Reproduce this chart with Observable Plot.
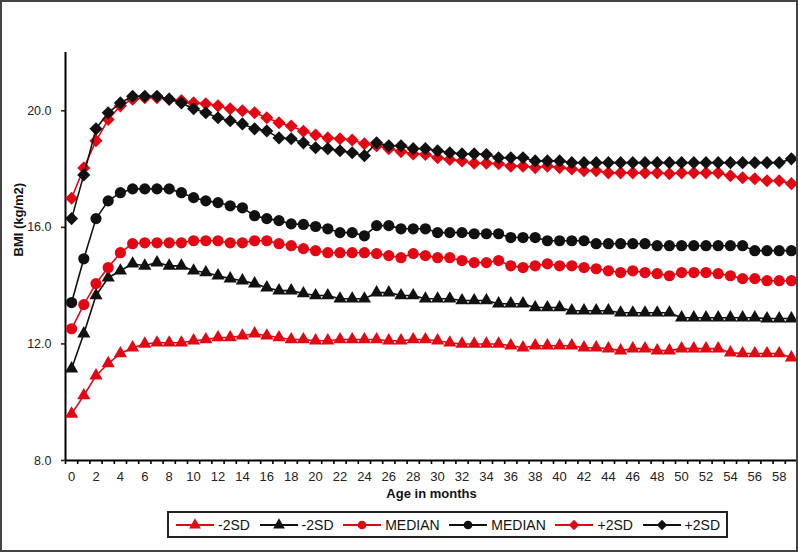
<!DOCTYPE html>
<html>
<head>
<meta charset="utf-8">
<script src="https://cdn.jsdelivr.net/npm/d3@7"></script>
<script src="https://cdn.jsdelivr.net/npm/@observablehq/plot@0.6"></script>
<style>
html, body { margin: 0; padding: 0; background: #fff; }
#page { position: relative; width: 798px; height: 552px; overflow: hidden; font-family: "Liberation Sans", Arial, sans-serif; }
#frame { position: absolute; left: 0; top: 0; width: 798px; height: 552px; box-sizing: border-box; border: 2px solid #444; pointer-events: none; }
#chart { position: absolute; left: 0; top: 0; }
#legend { position: absolute; left: 167px; top: 511px; width: 561px; height: 27px; box-sizing: border-box; border: 2px solid #222;
  display: flex; align-items: center; justify-content: space-between; padding: 0 6px; font-size: 14px; color: #111; }
#legend .item { display: flex; align-items: center; gap: 3px; white-space: nowrap; }
#legend svg { display: block; }
</style>
</head>
<body>
<div id="page">
  <div id="chart"></div>
  <div id="legend"></div>
  <div id="frame"></div>
</div>
<script>
const RED = "#e30613";
const BLACK = "#111111";

const months = d3.range(0, 60);
const xTickLabels = d3.range(0, 59, 2);
const yTicks = [8, 12, 16, 20];

const redMinus2 = [9.6,10.23,10.91,11.33,11.67,11.87,12.0,12.04,12.04,12.04,12.11,12.15,12.22,12.22,12.28,12.35,12.28,12.22,12.15,12.15,
  12.11,12.11,12.15,12.15,12.15,12.15,12.11,12.11,12.15,12.15,12.11,12.04,12.0,12.0,12.0,12.0,11.94,11.87,11.94,11.94,
  11.94,11.94,11.87,11.87,11.84,11.77,11.84,11.84,11.77,11.77,11.84,11.84,11.84,11.84,11.7,11.67,11.67,11.67,11.67,11.53];
const blackMinus2 = [11.15,12.35,13.66,14.27,14.51,14.75,14.68,14.79,14.68,14.68,14.51,14.45,14.34,14.24,14.17,14.07,13.93,13.83,13.83,13.73,
  13.66,13.66,13.55,13.55,13.55,13.76,13.76,13.66,13.66,13.55,13.55,13.55,13.49,13.49,13.49,13.38,13.38,13.38,13.25,13.25,
  13.25,13.14,13.14,13.14,13.14,13.07,13.07,13.07,13.07,13.07,12.9,12.9,12.9,12.9,12.9,12.9,12.9,12.87,12.87,12.87];
const redMedian = [12.52,13.35,14.07,14.62,15.13,15.44,15.47,15.47,15.47,15.47,15.54,15.54,15.54,15.47,15.47,15.54,15.54,15.44,15.37,15.27,
  15.2,15.13,15.13,15.13,15.13,15.1,15.03,14.96,15.1,15.03,14.96,14.96,14.86,14.79,14.79,14.86,14.68,14.62,14.68,14.75,
  14.68,14.68,14.62,14.58,14.51,14.45,14.51,14.45,14.41,14.34,14.45,14.45,14.45,14.41,14.34,14.24,14.24,14.17,14.17,14.17];
const blackMedian = [13.42,14.92,16.3,16.91,17.19,17.32,17.32,17.32,17.32,17.19,17.02,16.91,16.85,16.74,16.67,16.4,16.3,16.23,16.12,16.1,
  16.03,15.95,15.82,15.82,15.71,16.06,16.06,15.95,15.95,15.95,15.82,15.82,15.82,15.78,15.78,15.78,15.65,15.65,15.65,15.54,
  15.54,15.54,15.54,15.44,15.44,15.44,15.44,15.44,15.37,15.37,15.37,15.37,15.37,15.37,15.37,15.37,15.2,15.2,15.2,15.2];
const redPlus2 = [17.0,18.04,18.97,19.7,20.17,20.4,20.45,20.45,20.4,20.35,20.27,20.24,20.17,20.07,20.0,19.93,19.76,19.59,19.48,19.3,
  19.17,19.07,19.04,19.0,18.87,18.8,18.7,18.6,18.52,18.5,18.39,18.33,18.28,18.2,18.2,18.18,18.1,18.1,18.05,18.1,
  18.05,18.0,17.94,17.94,17.87,17.87,17.87,17.87,17.87,17.84,17.87,17.87,17.87,17.87,17.77,17.7,17.67,17.6,17.6,17.5];
const blackPlus2 = [16.3,17.8,19.38,19.93,20.27,20.5,20.5,20.5,20.4,20.27,20.07,19.93,19.76,19.66,19.55,19.38,19.31,19.07,19.04,18.9,
  18.73,18.7,18.63,18.56,18.46,18.9,18.8,18.8,18.7,18.7,18.63,18.56,18.52,18.52,18.5,18.39,18.39,18.39,18.28,18.28,
  18.28,18.22,18.22,18.22,18.22,18.22,18.22,18.22,18.22,18.22,18.22,18.22,18.22,18.22,18.22,18.22,18.22,18.22,18.22,18.35];

const seriesNames = ["-2SD", "-2SD", "MEDIAN", "MEDIAN", "+2SD", "+2SD"];
const seriesValues = [redMinus2, blackMinus2, redMedian, blackMedian, redPlus2, blackPlus2];
const seriesColors = [RED, BLACK, RED, BLACK, RED, BLACK];
const seriesSymbols = ["triangle", "triangle", "circle", "circle", "diamond2", "diamond2"];
const seriesR = [4.9, 4.9, 5.6, 5.6, 5.9, 5.9];

const boundaries = d3.range(-0.5, 60, 1);

const marks = [
  Plot.axisX({ticks: boundaries, tickSize: 4, text: null, label: null, strokeWidth: 1.6, stroke: "#000"}),
  Plot.axisX({ticks: xTickLabels, tickSize: 0, tickPadding: 11, label: null, fontSize: 13, fill: "#222"}),
  Plot.axisY({ticks: yTicks, tickSize: 4, tickPadding: 10, tickFormat: d => d.toFixed(1), label: null, strokeWidth: 1.6, fontSize: 12.5, fill: "#222"}),
  Plot.ruleX([-0.5], {y1: 8, y2: 22, stroke: "#000", strokeWidth: 2}),
  Plot.ruleY([8], {x1: -0.5, x2: 59.5, stroke: "#000", strokeWidth: 2}),
  Plot.text(["BMI (kg/m2)"], {frameAnchor: "left", rotate: -90, dx: -47, fontWeight: "bold", fontSize: 13, fill: "#111"}),
  Plot.text(["Age in months"], {frameAnchor: "bottom", dy: 37, fontWeight: "bold", fontSize: 13, fill: "#111"})
];

seriesValues.forEach((vals, i) => {
  const rows = vals.map((v, m) => ({month: months[m], bmi: v}));
  marks.push(Plot.line(rows, {x: "month", y: "bmi", stroke: seriesColors[i], strokeWidth: 1.6}));
  marks.push(Plot.dot(rows, {x: "month", y: "bmi", fill: seriesColors[i], stroke: "none", symbol: seriesSymbols[i], r: seriesR[i]}));
});

const chart = Plot.plot({
  width: 798,
  height: 505,
  marginLeft: 65,
  marginRight: 1,
  marginTop: 52,
  marginBottom: 45,
  style: {fontFamily: "'Liberation Sans', Arial, sans-serif", fontSize: "13px", background: "transparent", color: "#222"},
  x: {domain: [-0.5, 59.5]},
  y: {domain: [8, 22]},
  marks
});
document.getElementById("chart").appendChild(chart);

// Legend
const legend = document.getElementById("legend");
const symPaths = {
  triangle: d3.symbol(d3.symbolTriangle, 60)(),
  circle: d3.symbol(d3.symbolCircle, 60)(),
  diamond2: d3.symbol(d3.symbolDiamond2, 70)()
};
seriesNames.forEach((name, i) => {
  const item = document.createElement("div");
  item.className = "item";
  const svg = d3.create("svg").attr("width", 40).attr("height", 16);
  svg.append("line").attr("x1", 1).attr("x2", 39).attr("y1", 8).attr("y2", 8).attr("stroke", seriesColors[i]).attr("stroke-width", 2.2);
  svg.append("path").attr("d", symPaths[seriesSymbols[i]]).attr("transform", "translate(20,8)").attr("fill", seriesColors[i]);
  item.appendChild(svg.node());
  const span = document.createElement("span");
  span.textContent = name;
  item.appendChild(span);
  legend.appendChild(item);
});
</script>
</body>
</html>
